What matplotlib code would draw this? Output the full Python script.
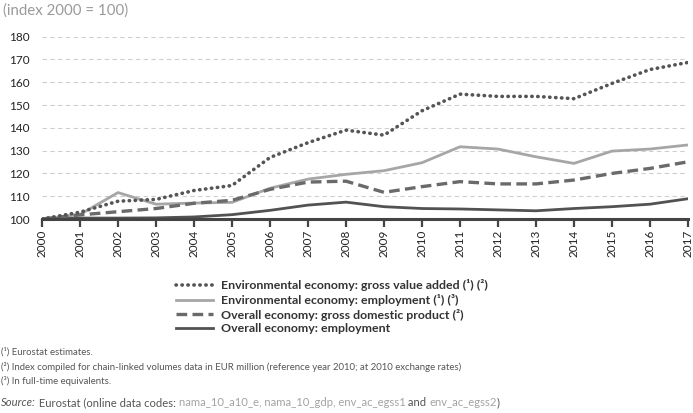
import matplotlib
matplotlib.use("Agg")
import matplotlib.pyplot as plt
from matplotlib.lines import Line2D

plt.rcParams['font.family'] = ['Lato', 'DejaVu Sans']

years = list(range(2000, 2018))
env_gva = [100, 103, 107.8, 108.6, 112.5, 114.7, 127, 133.5, 139, 136.8, 147.5, 154.8, 153.8, 153.8, 152.8, 159.5, 165.6, 168.7]
env_emp = [100, 102, 111.6, 106.5, 107, 107.3, 113.5, 117.5, 119.6, 121.2, 124.7, 131.7, 130.7, 127.3, 124.4, 129.8, 130.7, 132.5]
gdp = [100, 101.8, 103.2, 104.6, 106.9, 108.2, 113, 116.2, 116.6, 111.7, 114.2, 116.4, 115.4, 115.4, 117.1, 120, 122.2, 125.1]
emp = [100, 100.4, 100.4, 100.5, 100.9, 101.9, 103.8, 106.1, 107.4, 105.4, 104.6, 104.4, 104, 103.6, 104.6, 105.4, 106.5, 108.9]

labels = ["Environmental economy: gross value added (\u00b9) (\u00b2)",
          "Environmental economy: employment (\u00b9) (\u00b3)",
          "Overall economy: gross domestic product (\u00b2)",
          "Overall economy: employment"]
yticks = [100, 110, 120, 130, 140, 150, 160, 170, 180]

W, H = 693, 413
fig = plt.figure(figsize=(W / 100, H / 100), dpi=100)
ax = fig.add_axes([42 / W, 1 - 219 / H, (688 - 42) / W, (219 - 36.7) / H])

c_dot = '#555555'
c_env = '#a6a6a6'
c_gdp = '#6a6a6a'
c_emp = '#525252'

ax.plot(years, env_emp, color=c_env, lw=2.0, zorder=3, solid_capstyle='butt')
ax.plot(years, emp, color=c_emp, lw=2.0, zorder=4)
ax.plot(years, gdp, color=c_gdp, lw=2.4, dashes=(3.2, 1.6), zorder=5)
ax.plot(years, env_gva, color=c_dot, lw=2.6, linestyle=(0, (0.1, 1.55)), dash_capstyle='round', zorder=6)

ax.set_xlim(2000, 2017)
ax.set_ylim(100, 180)
ax.set_yticks(yticks)
ax.set_xticks(years)
ax.set_xticklabels([str(y) for y in years], rotation=90, fontsize=8.5, color='#222222')
ax.tick_params(axis='x', direction='out', length=6, width=1.6, color='#444444', pad=2)
ax.tick_params(axis='y', length=0, labelsize=8.5, labelcolor='#222222', pad=9)
for s in ['top', 'right', 'left']:
    ax.spines[s].set_visible(False)
ax.spines['bottom'].set_color('#444444')
ax.spines['bottom'].set_linewidth(2.2)
ax.spines['bottom'].set_zorder(7)
ax.grid(axis='y', color='#cfcfcf', linestyle=(0, (4, 3)), lw=0.8)
ax.set_axisbelow(True)

fig.text(3 / W, 1 - 11 / H, "(index 2000 = 100)", fontsize=10.8, color='#9a9a9a', va='center', ha='left')

handles = [
    Line2D([], [], color=c_dot, lw=2.6, linestyle=(0, (0.1, 1.55)), dash_capstyle='round'),
    Line2D([], [], color=c_env, lw=2.0),
    Line2D([], [], color=c_gdp, lw=2.4, dashes=(3.2, 1.6)),
    Line2D([], [], color=c_emp, lw=2.0),
]
leg = fig.legend(handles, labels, loc='upper left', bbox_to_anchor=(165 / W, 1 - 268 / H),
                 frameon=False, handlelength=3.0, handletextpad=0.6, labelspacing=0.22,
                 prop={'weight': 'bold', 'size': 8.9})
for t in leg.get_texts():
    t.set_color('#333333')

fn_kw = dict(fontsize=6.9, color='#555555', va='center', ha='left')
fig.text(1 / W, 1 - 352 / H, "(\u00b9) Eurostat estimates.", **fn_kw)
fig.text(1 / W, 1 - 366.5 / H, "(\u00b2) Index compiled for chain-linked volumes data in EUR million (reference year 2010; at 2010 exchange rates)", **fn_kw)
fig.text(1 / W, 1 - 381 / H, "(\u00b3) In full-time equivalents.", **fn_kw)

src_size = 8.1
pieces = [("Source:", '#555555', 'italic'),
          (" Eurostat (online data codes: ", '#555555', 'normal'),
          ("nama_10_a10_e, nama_10_gdp, env_ac_egss1", '#a3a3a3', 'normal'),
          (" and ", '#555555', 'normal'),
          ("env_ac_egss2", '#a3a3a3', 'normal'),
          (")", '#555555', 'normal')]
prev = fig.text(1 / W, 1 - 406 / H, pieces[0][0], fontsize=src_size, color=pieces[0][1],
                style=pieces[0][2], va='baseline', ha='left')
for txt, col, sty in pieces[1:]:
    prev = ax.annotate(txt, xy=(1, 0), xycoords=prev, fontsize=src_size, color=col, style=sty,
                       va='bottom', ha='left', annotation_clip=False)

fig.savefig("out.png", dpi=100)
